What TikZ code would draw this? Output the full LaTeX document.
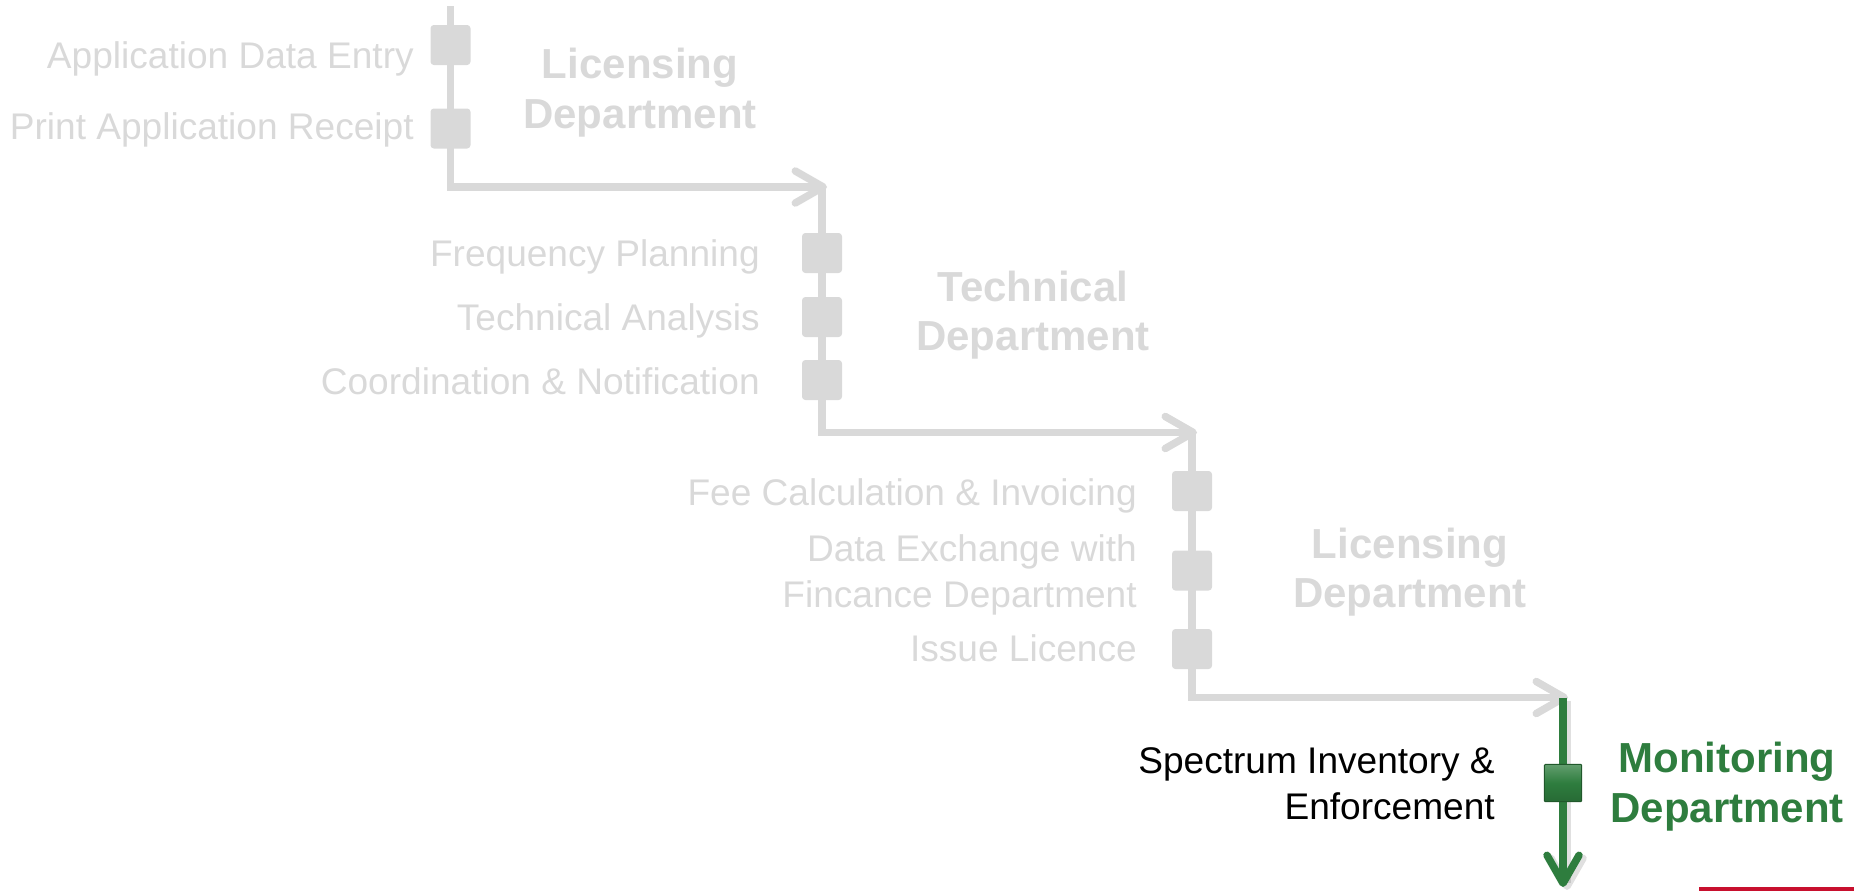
\documentclass[tikz,border=0pt]{standalone}
\usepackage{fontspec}
\setmainfont{Liberation Sans}
\usetikzlibrary{arrows.meta}

\definecolor{stepgray}{RGB}{217,217,217}
\definecolor{mongreen}{RGB}{46,125,62}
\definecolor{rulered}{RGB}{200,16,46}

\tikzset{
  flow/.style={draw=stepgray, line width=5.6pt, -{Straight Barb[length=21pt,width=24pt,round]}},
  stepbox/.style={fill=stepgray, rounded corners=2.5pt, minimum width=30pt, minimum height=30pt, inner sep=0pt},
  steptext/.style={text=stepgray, font=\fontsize{27.8}{34.1}\selectfont, inner sep=0pt, align=right, anchor=base east},
  depttext/.style={text=stepgray, font=\bfseries\fontsize{31.5}{37}\selectfont, inner sep=0pt, align=center, anchor=base}
}

\begin{document}
\begin{tikzpicture}[x=0.75pt,y=0.75pt,yscale=-1]
\useasboundingbox (0,0) rectangle (1854,893);

%Corner Points
\coordinate (lictop) at (450.5,6);
\coordinate (licturn) at (450.5,187);
\coordinate (lictip) at (827,187);
\coordinate (tectop) at (822,187);
\coordinate (tecturn) at (822,432.5);
\coordinate (tectip) at (1197,432.5);
\coordinate (feetop) at (1192,432.5);
\coordinate (feeturn) at (1192,697.5);
\coordinate (feetip) at (1568,697.5);
\coordinate (montop) at (1563,697.5);
\coordinate (montip) at (1563,887);
\coordinate (ruleleft) at (1699,889);
\coordinate (ruleright) at (1854,889);

%Straight Lines
\draw [flow] (lictop) -- (licturn) -- (lictip);
\draw [flow] (tectop) -- (tecturn) -- (tectip);
\draw [flow] (feetop) -- (feeturn) -- (feetip);
%Shadow of the monitoring line
\draw [line width=5.6pt, black, opacity=0.12, -{Straight Barb[length=21pt,width=24pt,round]}] ([shift={(4,3)}]montop) -- ([shift={(4,3)}]montip);
\draw [flow, draw=mongreen] (montop) -- (montip);
%Red rule
\draw [rulered, line width=2.6pt] (ruleleft) -- (ruleright);

%Step Boxes
\node [stepbox] (entrybox) at (450.5,45) {};
\node [stepbox] (receiptbox) at (450.5,128.5) {};
\node [stepbox] (freqbox) at (822,253) {};
\node [stepbox] (analysisbox) at (822,317) {};
\node [stepbox] (coordbox) at (822,380) {};
\node [stepbox] (feebox) at (1192,491) {};
\node [stepbox] (exchangebox) at (1192,570.5) {};
\node [stepbox] (issuebox) at (1192,649) {};
\node [stepbox, minimum width=28pt, minimum height=28pt, rounded corners=0.8pt, draw=mongreen!70!black, line width=0.8pt, top color=mongreen!75!white, bottom color=mongreen!85!black, middle color=mongreen] (spectrumbox) at (1563,783) {};

% Text Node
\node [steptext] (entry) at (414,68) {Application Data Entry};
\node [steptext] (receipt) at (414,139) {Print Application Receipt};
\node [depttext] (licdept) at (640,128) {Licensing\\Department};
% Text Node
\node [steptext] (freq) at (760,266.5) {Frequency Planning};
\node [steptext] (analysis) at (760,330) {Technical Analysis};
\node [steptext] (coord) at (760,394) {Coordination \& Notification};
\node [depttext] (tecdept) at (1033,350.5) {Technical\\Department};
% Text Node
\node [steptext] (fee) at (1137,505) {Fee Calculation \& Invoicing};
\node [steptext] (exchange) at (1137,607) {Data Exchange with\\Fincance Department};
\node [steptext] (issue) at (1137,661.5) {Issue Licence};
\node [depttext] (feedept) at (1410,607.5) {Licensing\\Department};
% Text Node
\node [steptext, text=black, font=\fontsize{27.8}{34.5}\selectfont] (spectrum) at (1495,819.5) {Spectrum Inventory \&\\Enforcement};
\node [depttext, text=mongreen] (mondept) at (1727,822) {Monitoring\\Department};

\end{tikzpicture}
\end{document}
